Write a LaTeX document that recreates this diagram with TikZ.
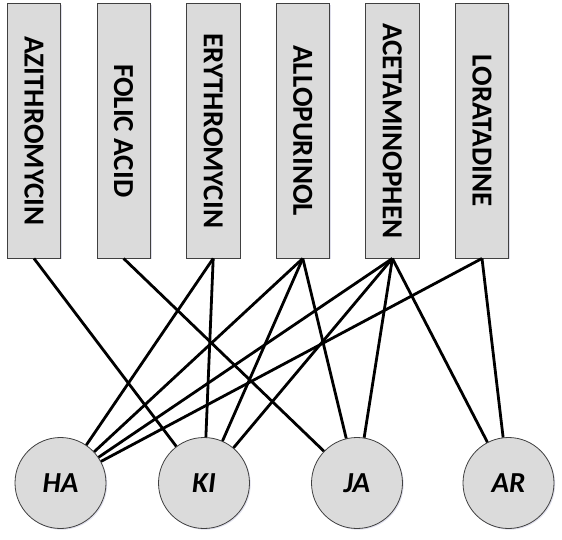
\documentclass[tikz,border=0pt]{standalone}
\usepackage{fontspec}
\setmainfont{Carlito}
\usetikzlibrary{shadows}

\begin{document}
\begin{tikzpicture}[x = 1pt, y = -1pt,
    drug/.style = {draw = black!75, fill = black!14, line width = 0.8pt, minimum width = 53.4pt, minimum height = 254.7pt, inner sep = 0pt, drop shadow = {shadow xshift = 1.2pt, shadow yshift = -1.2pt, fill = blue!25!gray, opacity = 0.2}, font = \fontsize{29}{34}\selectfont\bfseries},
    patient/.style = {circle, draw = black!75, fill = black!14, line width = 0.8pt, minimum size = 91pt, inner sep = 0pt, drop shadow = {shadow xshift = 1.2pt, shadow yshift = -1.2pt, fill = blue!25!gray, opacity = 0.2}, font = \fontsize{29}{34}\selectfont\bfseries\itshape},
    link/.style = {line width = 2.8pt}]
    \useasboundingbox (0, 0) rectangle (562, 539);
    \foreach \name/\txt [count = \i from 0] in {azi/AZITHROMYCIN, fol/FOLIC ACID, ery/ERYTHROMYCIN, all/ALLOPURINOL, ace/ACETAMINOPHEN, lor/LORATADINE}
    \node[drug] (\name) at (34 + 89.6*\i, 130.7) {\rotatebox{-90}{\txt}};
    \node[patient] (ha) at (60.5, 483) {HA};
    \node[patient] (ki) at (204, 483) {KI};
    \node[patient] (ja) at (357, 483) {JA};
    \node[patient] (ar) at (508.5, 483) {AR};
    \foreach \from/\to in {azi/ki, fol/ja, ery/ha, ery/ki, all/ha, all/ki, all/ja, ace/ha, ace/ki, ace/ja, ace/ar, lor/ha, lor/ar}
    \draw[link] (\from.south) -- (\to);
\end{tikzpicture}
\end{document}
